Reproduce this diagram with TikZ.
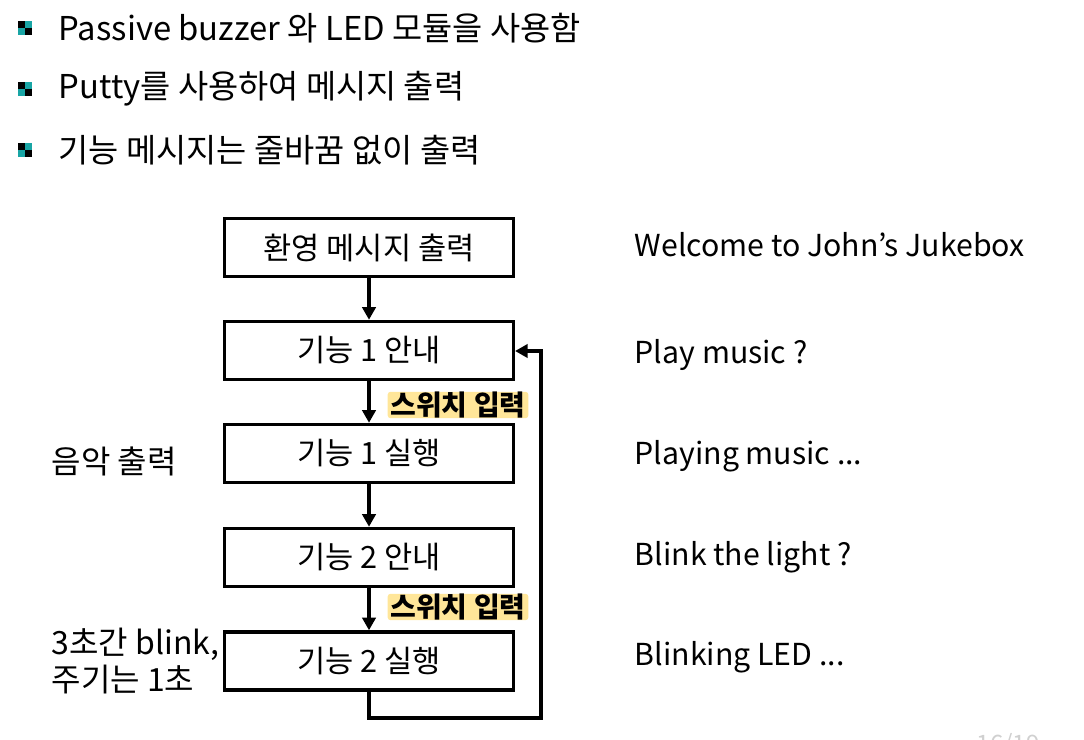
\documentclass[tikz,border=0pt]{standalone}
\usepackage{fontspec}
\setmainfont{Noto Sans CJK KR}
\usetikzlibrary{arrows.meta}
\definecolor{hlyellow}{HTML}{FFE699}
\definecolor{bulteal}{HTML}{19A5A5}
\definecolor{pagegray}{HTML}{D0D0D0}

\begin{document}
\begin{tikzpicture}[x=0.75pt, y=-0.75pt, line width=2.6pt,
  stepbox/.style={draw, minimum width=216.5pt, minimum height=43.5pt, inner sep=0pt, font=\fontsize{23}{26}\selectfont},
  flow/.style={-{Triangle[length=9.5pt, width=10pt]}},
  hilite/.style={fill=hlyellow, inner xsep=2pt, inner ysep=0pt, rounded corners=2pt, font=\bfseries\fontsize{21}{23}\selectfont},
  outtext/.style={anchor=west, inner sep=0pt, font=\fontsize{22.7}{26}\selectfont},
  sidetext/.style={anchor=west, inner sep=0pt, align=left, font=\fontsize{24}{28}\selectfont},
  bullettext/.style={anchor=west, inner sep=0pt, font=\fontsize{24.6}{28}\selectfont}]
  \useasboundingbox (0,0) rectangle (1084,739);

  % bullets
  \foreach \by/\btext [count=\i] in {28/{Passive buzzer 와 LED 모듈을 사용함}, 89/{Putty를 사용하여 메시지 출력}, 150/{기능 메시지는 줄바꿈 없이 출력}} {
    \fill (18,\by-7) rectangle (25,\by);
    \fill[bulteal] (25,\by-7) rectangle (32,\by);
    \fill[bulteal] (18,\by) rectangle (25,\by+7);
    \fill (25,\by) rectangle (32,\by+7);
    \node[bullettext] (b\i) at (57,\by) {\btext};
  }

  % flow boxes
  \node[stepbox] (welcome) at (369,247.5) {환영 메시지 출력};
  \node[stepbox] (guide1) at (369,350.5) {기능 1 안내};
  \node[stepbox] (run1) at (369,453.5) {기능 1 실행};
  \node[stepbox] (guide2) at (369,557.5) {기능 2 안내};
  \node[stepbox] (run2) at (369,661) {기능 2 실행};

  \draw[flow] (welcome) to (guide1);
  \draw[flow] (guide1) to (run1);
  \draw[flow] (run1) to (guide2);
  \draw[flow] (guide2) to (run2);

  % loop back
  \coordinate (loopA) at (369,718);
  \coordinate (loopB) at (541,718);
  \coordinate (loopC) at (541,351);
  \draw[flow] (run2.south) -- (loopA) -- (loopB) -- (loopC) -- (guide1.east |- loopC);

  \node[hilite] (sw1) at (458,405) {스위치 입력};
  \node[hilite] (sw2) at (458,607) {스위치 입력};

  % side notes
  \node[sidetext] (music) at (50,461) {음악 출력};
  \node[sidetext] (blink) at (50,661) {3초간 blink,\\주기는 1초};

  % terminal output
  \node[outtext] (msg0) at (633,245) {Welcome to John’s Jukebox};
  \node[outtext] (msg1) at (633,355) {Play music ?};
  \node[outtext] (msg2) at (633,456) {Playing music ...};
  \node[outtext] (msg3) at (633,557) {Blink the light ?};
  \node[outtext] (msg4) at (633,657) {Blinking LED ...};

  \node[anchor=west, inner sep=0pt, text=pagegray, font=\fontsize{18}{20}\selectfont] (page) at (975,745) {16/19};
\end{tikzpicture}
\end{document}
